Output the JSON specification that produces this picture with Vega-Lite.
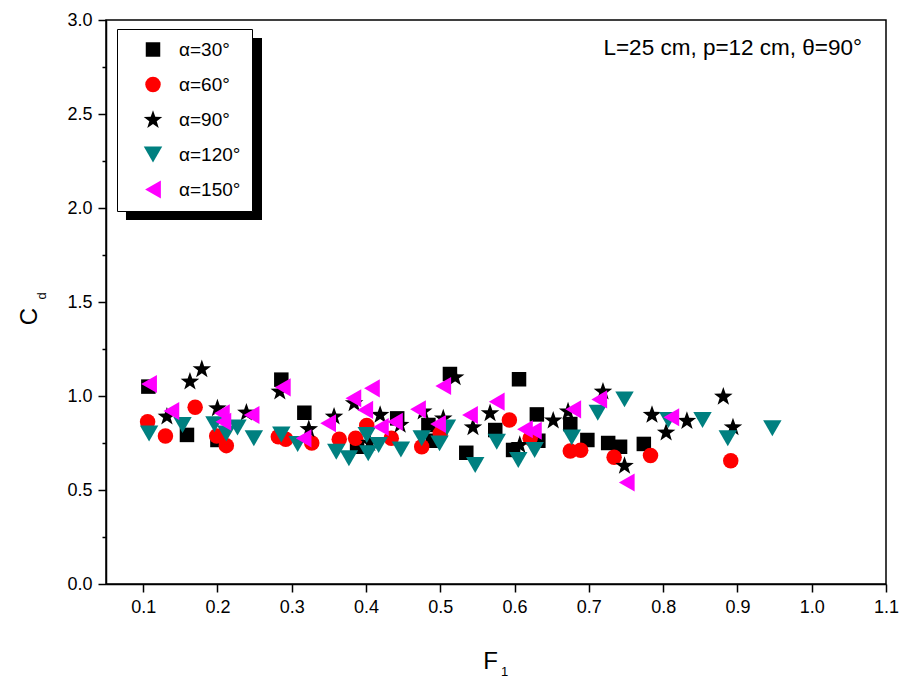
{
  "$schema": "https://vega.github.io/schema/vega-lite/v6.json",
  "width": 780,
  "height": 564,
  "autosize": {"type": "none"},
  "padding": {"left": 106, "top": 20, "right": 18, "bottom": 95},
  "background": "white",
  "config": {
    "view": {"stroke": "black", "strokeWidth": 1.5},
    "font": "Liberation Sans"
  },
  "datasets": {
    "labels": [{"note": "L=25 cm, p=12 cm, θ=90°", "sx": "1", "sy": "d"}],
    "pts": [
      {"F": 0.107, "Cd": 1.05, "alpha": "α=30°"},
      {"F": 0.159, "Cd": 0.793, "alpha": "α=30°"},
      {"F": 0.200, "Cd": 0.766, "alpha": "α=30°"},
      {"F": 0.286, "Cd": 1.087, "alpha": "α=30°"},
      {"F": 0.317, "Cd": 0.911, "alpha": "α=30°"},
      {"F": 0.388, "Cd": 0.73, "alpha": "α=30°"},
      {"F": 0.442, "Cd": 0.881, "alpha": "α=30°"},
      {"F": 0.484, "Cd": 0.846, "alpha": "α=30°"},
      {"F": 0.490, "Cd": 0.762, "alpha": "α=30°"},
      {"F": 0.513, "Cd": 1.117, "alpha": "α=30°"},
      {"F": 0.535, "Cd": 0.698, "alpha": "α=30°"},
      {"F": 0.574, "Cd": 0.819, "alpha": "α=30°"},
      {"F": 0.598, "Cd": 0.713, "alpha": "α=30°"},
      {"F": 0.606, "Cd": 1.089, "alpha": "α=30°"},
      {"F": 0.630, "Cd": 0.902, "alpha": "α=30°"},
      {"F": 0.632, "Cd": 0.762, "alpha": "α=30°"},
      {"F": 0.675, "Cd": 0.851, "alpha": "α=30°"},
      {"F": 0.698, "Cd": 0.766, "alpha": "α=30°"},
      {"F": 0.726, "Cd": 0.75, "alpha": "α=30°"},
      {"F": 0.742, "Cd": 0.73, "alpha": "α=30°"},
      {"F": 0.774, "Cd": 0.745, "alpha": "α=30°"},
      {"F": 0.106, "Cd": 0.863, "alpha": "α=60°"},
      {"F": 0.130, "Cd": 0.787, "alpha": "α=60°"},
      {"F": 0.170, "Cd": 0.94, "alpha": "α=60°"},
      {"F": 0.199, "Cd": 0.787, "alpha": "α=60°"},
      {"F": 0.212, "Cd": 0.736, "alpha": "α=60°"},
      {"F": 0.282, "Cd": 0.783, "alpha": "α=60°"},
      {"F": 0.292, "Cd": 0.77, "alpha": "α=60°"},
      {"F": 0.327, "Cd": 0.75, "alpha": "α=60°"},
      {"F": 0.364, "Cd": 0.77, "alpha": "α=60°"},
      {"F": 0.386, "Cd": 0.775, "alpha": "α=60°"},
      {"F": 0.401, "Cd": 0.843, "alpha": "α=60°"},
      {"F": 0.434, "Cd": 0.775, "alpha": "α=60°"},
      {"F": 0.475, "Cd": 0.73, "alpha": "α=60°"},
      {"F": 0.500, "Cd": 0.80, "alpha": "α=60°"},
      {"F": 0.593, "Cd": 0.872, "alpha": "α=60°"},
      {"F": 0.621, "Cd": 0.775, "alpha": "α=60°"},
      {"F": 0.675, "Cd": 0.707, "alpha": "α=60°"},
      {"F": 0.689, "Cd": 0.711, "alpha": "α=60°"},
      {"F": 0.734, "Cd": 0.674, "alpha": "α=60°"},
      {"F": 0.783, "Cd": 0.683, "alpha": "α=60°"},
      {"F": 0.891, "Cd": 0.656, "alpha": "α=60°"},
      {"F": 0.132, "Cd": 0.89, "alpha": "α=90°"},
      {"F": 0.163, "Cd": 1.076, "alpha": "α=90°"},
      {"F": 0.179, "Cd": 1.142, "alpha": "α=90°"},
      {"F": 0.200, "Cd": 0.934, "alpha": "α=90°"},
      {"F": 0.239, "Cd": 0.911, "alpha": "α=90°"},
      {"F": 0.284, "Cd": 1.023, "alpha": "α=90°"},
      {"F": 0.323, "Cd": 0.823, "alpha": "α=90°"},
      {"F": 0.357, "Cd": 0.89, "alpha": "α=90°"},
      {"F": 0.384, "Cd": 0.961, "alpha": "α=90°"},
      {"F": 0.405, "Cd": 0.75, "alpha": "α=90°"},
      {"F": 0.419, "Cd": 0.899, "alpha": "α=90°"},
      {"F": 0.446, "Cd": 0.846, "alpha": "α=90°"},
      {"F": 0.477, "Cd": 0.917, "alpha": "α=90°"},
      {"F": 0.504, "Cd": 0.88, "alpha": "α=90°"},
      {"F": 0.520, "Cd": 1.099, "alpha": "α=90°"},
      {"F": 0.544, "Cd": 0.833, "alpha": "α=90°"},
      {"F": 0.567, "Cd": 0.908, "alpha": "α=90°"},
      {"F": 0.607, "Cd": 0.739, "alpha": "α=90°"},
      {"F": 0.652, "Cd": 0.869, "alpha": "α=90°"},
      {"F": 0.672, "Cd": 0.917, "alpha": "α=90°"},
      {"F": 0.719, "Cd": 1.023, "alpha": "α=90°"},
      {"F": 0.748, "Cd": 0.628, "alpha": "α=90°"},
      {"F": 0.785, "Cd": 0.899, "alpha": "α=90°"},
      {"F": 0.804, "Cd": 0.805, "alpha": "α=90°"},
      {"F": 0.832, "Cd": 0.867, "alpha": "α=90°"},
      {"F": 0.881, "Cd": 0.996, "alpha": "α=90°"},
      {"F": 0.894, "Cd": 0.833, "alpha": "α=90°"},
      {"F": 0.108, "Cd": 0.80, "alpha": "α=120°"},
      {"F": 0.153, "Cd": 0.846, "alpha": "α=120°"},
      {"F": 0.196, "Cd": 0.85, "alpha": "α=120°"},
      {"F": 0.212, "Cd": 0.80, "alpha": "α=120°"},
      {"F": 0.227, "Cd": 0.833, "alpha": "α=120°"},
      {"F": 0.249, "Cd": 0.775, "alpha": "α=120°"},
      {"F": 0.286, "Cd": 0.795, "alpha": "α=120°"},
      {"F": 0.308, "Cd": 0.745, "alpha": "α=120°"},
      {"F": 0.360, "Cd": 0.704, "alpha": "α=120°"},
      {"F": 0.377, "Cd": 0.669, "alpha": "α=120°"},
      {"F": 0.401, "Cd": 0.793, "alpha": "α=120°"},
      {"F": 0.403, "Cd": 0.695, "alpha": "α=120°"},
      {"F": 0.417, "Cd": 0.739, "alpha": "α=120°"},
      {"F": 0.447, "Cd": 0.716, "alpha": "α=120°"},
      {"F": 0.475, "Cd": 0.775, "alpha": "α=120°"},
      {"F": 0.499, "Cd": 0.748, "alpha": "α=120°"},
      {"F": 0.509, "Cd": 0.833, "alpha": "α=120°"},
      {"F": 0.547, "Cd": 0.633, "alpha": "α=120°"},
      {"F": 0.576, "Cd": 0.757, "alpha": "α=120°"},
      {"F": 0.605, "Cd": 0.66, "alpha": "α=120°"},
      {"F": 0.627, "Cd": 0.713, "alpha": "α=120°"},
      {"F": 0.677, "Cd": 0.78, "alpha": "α=120°"},
      {"F": 0.712, "Cd": 0.911, "alpha": "α=120°"},
      {"F": 0.748, "Cd": 0.982, "alpha": "α=120°"},
      {"F": 0.807, "Cd": 0.872, "alpha": "α=120°"},
      {"F": 0.853, "Cd": 0.872, "alpha": "α=120°"},
      {"F": 0.887, "Cd": 0.775, "alpha": "α=120°"},
      {"F": 0.947, "Cd": 0.828, "alpha": "α=120°"},
      {"F": 0.108, "Cd": 1.064, "alpha": "α=150°"},
      {"F": 0.138, "Cd": 0.92, "alpha": "α=150°"},
      {"F": 0.206, "Cd": 0.908, "alpha": "α=150°"},
      {"F": 0.208, "Cd": 0.863, "alpha": "α=150°"},
      {"F": 0.246, "Cd": 0.899, "alpha": "α=150°"},
      {"F": 0.288, "Cd": 1.046, "alpha": "α=150°"},
      {"F": 0.316, "Cd": 0.775, "alpha": "α=150°"},
      {"F": 0.349, "Cd": 0.855, "alpha": "α=150°"},
      {"F": 0.383, "Cd": 0.988, "alpha": "α=150°"},
      {"F": 0.399, "Cd": 0.926, "alpha": "α=150°"},
      {"F": 0.408, "Cd": 1.041, "alpha": "α=150°"},
      {"F": 0.420, "Cd": 0.835, "alpha": "α=150°"},
      {"F": 0.439, "Cd": 0.863, "alpha": "α=150°"},
      {"F": 0.470, "Cd": 0.929, "alpha": "α=150°"},
      {"F": 0.497, "Cd": 0.851, "alpha": "α=150°"},
      {"F": 0.504, "Cd": 1.053, "alpha": "α=150°"},
      {"F": 0.540, "Cd": 0.899, "alpha": "α=150°"},
      {"F": 0.576, "Cd": 0.97, "alpha": "α=150°"},
      {"F": 0.614, "Cd": 0.823, "alpha": "α=150°"},
      {"F": 0.626, "Cd": 0.815, "alpha": "α=150°"},
      {"F": 0.679, "Cd": 0.929, "alpha": "α=150°"},
      {"F": 0.714, "Cd": 0.982, "alpha": "α=150°"},
      {"F": 0.751, "Cd": 0.54, "alpha": "α=150°"},
      {"F": 0.811, "Cd": 0.887, "alpha": "α=150°"}
    ]
  },
  "layer": [
    {
      "data": {"name": "labels"},
      "mark": {"type": "rect", "color": "black"},
      "encoding": {
        "x": {"datum": 0.0769, "type": "quantitative"},
        "x2": {"datum": 0.26},
        "y": {"datum": 2.904, "type": "quantitative"},
        "y2": {"datum": 1.936}
      }
    },
    {
      "data": {"name": "pts"},
      "mark": {"type": "point", "filled": true, "opacity": 1, "strokeWidth": 0},
      "encoding": {
        "x": {"field": "F", "type": "quantitative",
          "scale": {"domain": [0.05, 1.1], "nice": false, "zero": false},
          "axis": {"values": [0.1, 0.2, 0.3, 0.4, 0.5, 0.6, 0.7, 0.8, 0.9, 1.0, 1.1],
            "format": ".1f",
            "grid": false, "domainColor": "black", "domainWidth": 1.5, "tickColor": "black", "tickWidth": 1.5, "tickSize": 8,
            "labelFont": "Liberation Sans", "labelFontSize": 18, "labelColor": "black", "labelPadding": 6, "labelFlush": false, "labelOverlap": false,
            "title": "F", "titleFont": "Liberation Sans", "titleFontSize": 24, "titleFontWeight": "normal", "titleColor": "black", "titleAlign": "center", "titleBaseline": "alphabetic", "titleX": 384, "titleY": 84}},
        "y": {"field": "Cd", "type": "quantitative",
          "scale": {"domain": [0, 3], "nice": false},
          "axis": {"values": [0, 0.25, 0.5, 0.75, 1.0, 1.25, 1.5, 1.75, 2.0, 2.25, 2.5, 2.75, 3.0],
            "labelExpr": "round(datum.value*4) % 2 == 0 ? format(datum.value, '.1f') : ''",
            "grid": false, "domainColor": "black", "domainWidth": 1.5, "tickColor": "black", "tickWidth": 1.5,
            "tickSize": {"condition": {"test": "round(datum.value*4) % 2 == 0", "value": 8}, "value": 4},
            "labelFont": "Liberation Sans", "labelFontSize": 18, "labelColor": "black", "labelPadding": 6, "labelFlush": false, "labelOverlap": false,
            "title": "C", "titleFont": "Liberation Sans", "titleFontSize": 24, "titleFontWeight": "normal", "titleColor": "black", "titleAngle": -90, "titleAlign": "center", "titleBaseline": "alphabetic", "titleX": -70, "titleY": 296}},
        "color": {"field": "alpha", "type": "nominal",
          "scale": {"domain": ["α=30°", "α=60°", "α=90°", "α=120°", "α=150°"], "range": ["#000000", "#ff0000", "#000000", "#008080", "#ff00ff"]},
          "legend": {"title": null, "orient": "none", "legendX": 11, "legendY": 9, "zindex": 1,
            "fillColor": "white", "strokeColor": "black", "padding": 11,
            "labelFont": "Liberation Sans", "labelFontSize": 19, "labelColor": "black", "labelOffset": 16,
            "rowPadding": 15, "symbolOffset": 15, "symbolStrokeWidth": 0}},
        "shape": {"field": "alpha", "type": "nominal",
          "scale": {"domain": ["α=30°", "α=60°", "α=90°", "α=120°", "α=150°"], "range": ["square", "circle", "M0,-1L0.235,-0.324L0.951,-0.309L0.38,0.124L0.588,0.809L0,0.4L-0.588,0.809L-0.38,0.124L-0.951,-0.309L-0.235,-0.324Z", "triangle-down", "triangle-left"]}},
        "size": {"field": "alpha", "type": "nominal",
          "scale": {"type": "ordinal", "domain": ["α=30°", "α=60°", "α=90°", "α=120°", "α=150°"], "range": [210, 240, 380, 340, 330]}}
      }
    },
    {
      "data": {"name": "labels"},
      "mark": {"type": "text", "align": "right", "baseline": "alphabetic", "font": "Liberation Sans", "fontSize": 22.5, "color": "black", "dx": -24, "dy": 35},
      "encoding": {
        "text": {"field": "note"},
        "x": {"datum": 1.1, "type": "quantitative"},
        "y": {"datum": 3.0, "type": "quantitative"}
      }
    },
    {
      "data": {"name": "labels"},
      "mark": {"type": "text", "align": "left", "baseline": "alphabetic", "font": "Liberation Sans", "fontSize": 13, "color": "black", "dx": 9, "dy": 92},
      "encoding": {
        "text": {"field": "sx"},
        "x": {"datum": 0.5696, "type": "quantitative"},
        "y": {"datum": 0, "type": "quantitative"}
      }
    },
    {
      "data": {"name": "labels"},
      "mark": {"type": "text", "align": "center", "baseline": "alphabetic", "angle": 270, "font": "Liberation Sans", "fontSize": 13, "color": "black", "dx": 6, "dy": -60},
      "encoding": {
        "text": {"field": "sy"},
        "x": {"datum": 0.05, "type": "quantitative"},
        "y": {"datum": 1.5, "type": "quantitative"}
      }
    }
  ]
}
